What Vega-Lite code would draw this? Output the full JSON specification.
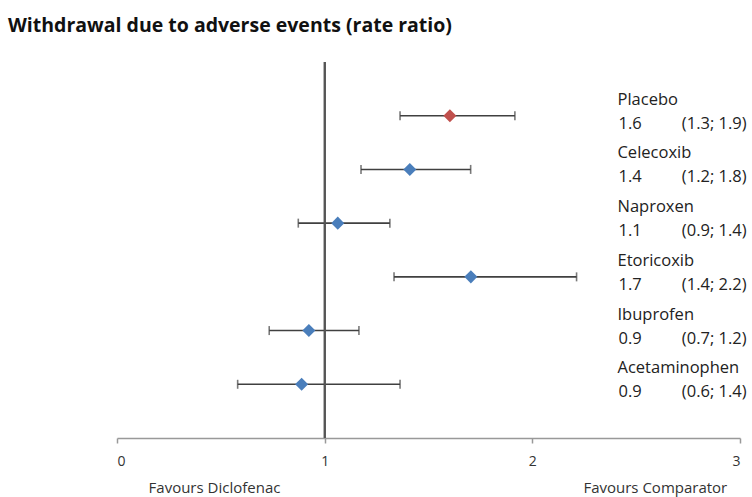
{
  "$schema": "https://vega.github.io/schema/vega-lite/v6.json",
  "width": 623,
  "height": 376,
  "autosize": "none",
  "padding": {"left": 117, "top": 62, "right": 12, "bottom": 59},
  "background": "white",
  "config": {
    "view": {"stroke": null},
    "font": "Open Sans",
    "text": {"font": "Open Sans"}
  },
  "title": {
    "text": "Withdrawal due to adverse events (rate ratio)",
    "anchor": "start",
    "frame": "group",
    "dx": -109,
    "offset": 25,
    "fontSize": 19.5,
    "fontWeight": "bold",
    "font": "Open Sans",
    "color": "#111111"
  },
  "data": {
    "values": [
      {"drug": "Placebo", "est": 1.603, "lo": 1.363, "hi": 1.916, "rr": "1.6", "ci": "(1.3; 1.9)", "group": "Placebo"},
      {"drug": "Celecoxib", "est": 1.41, "lo": 1.175, "hi": 1.703, "rr": "1.4", "ci": "(1.2; 1.8)", "group": "Active"},
      {"drug": "Naproxen", "est": 1.063, "lo": 0.873, "hi": 1.314, "rr": "1.1", "ci": "(0.9; 1.4)", "group": "Active"},
      {"drug": "Etoricoxib", "est": 1.704, "lo": 1.334, "hi": 2.213, "rr": "1.7", "ci": "(1.4; 2.2)", "group": "Active"},
      {"drug": "Ibuprofen", "est": 0.924, "lo": 0.733, "hi": 1.165, "rr": "0.9", "ci": "(0.7; 1.2)", "group": "Active"},
      {"drug": "Acetaminophen", "est": 0.889, "lo": 0.581, "hi": 1.363, "rr": "0.9", "ci": "(0.6; 1.4)", "group": "Active"}
    ]
  },
  "encoding": {
    "y": {
      "field": "drug",
      "type": "nominal",
      "sort": null,
      "scale": {"type": "point", "padding": 1.02},
      "axis": null
    }
  },
  "layer": [
    {
      "mark": {"type": "rule", "color": "#404040", "strokeWidth": 1.6},
      "encoding": {
        "x": {
          "field": "lo",
          "type": "quantitative",
          "scale": {"domain": [0, 3], "nice": false, "zero": false},
          "axis": {
            "orient": "bottom",
            "values": [0, 1, 2, 3],
            "format": "d",
            "grid": false,
            "title": null,
            "domainColor": "#999999",
            "domainWidth": 1.5,
            "tickColor": "#999999",
            "tickWidth": 1.5,
            "tickSize": 5,
            "labelFontSize": 14,
            "labelColor": "#333333",
            "labelPadding": 11,
            "labelFont": "Open Sans"
          }
        },
        "x2": {"field": "hi"}
      }
    },
    {
      "mark": {"type": "rule", "color": "#555555", "strokeWidth": 1.5},
      "encoding": {
        "x": {
          "datum": 1,
          "type": "quantitative",
          "axis": {
            "orient": "bottom",
            "values": [0.467, 2.59],
            "labelExpr": "datum.value < 1 ? 'Favours Diclofenac' : 'Favours Comparator'",
            "domain": false,
            "ticks": false,
            "grid": false,
            "title": null,
            "labelFontSize": 15,
            "labelColor": "#333333",
            "labelPadding": 4,
            "offset": 38,
            "labelFont": "Open Sans"
          }
        },
        "y": null
      }
    },
    {
      "mark": {"type": "tick", "color": "#404040", "thickness": 1.6, "size": 9},
      "encoding": {"x": {"field": "lo", "type": "quantitative", "axis": null}}
    },
    {
      "mark": {"type": "tick", "color": "#404040", "thickness": 1.6, "size": 9},
      "encoding": {"x": {"field": "hi", "type": "quantitative", "axis": null}}
    },
    {
      "mark": {"type": "point", "shape": "diamond", "filled": true, "size": 170, "opacity": 1},
      "encoding": {
        "x": {"field": "est", "type": "quantitative", "axis": null},
        "color": {
          "field": "group",
          "type": "nominal",
          "scale": {"domain": ["Placebo", "Active"], "range": ["#c0504d", "#4a7ebb"]},
          "legend": null
        }
      }
    },
    {
      "mark": {"type": "text", "align": "left", "baseline": "middle", "dy": -16, "fontSize": 16.5, "color": "#222222"},
      "encoding": {
        "x": {"datum": 2.41, "type": "quantitative", "axis": null},
        "text": {"field": "drug"}
      }
    },
    {
      "mark": {"type": "text", "align": "left", "baseline": "middle", "dy": 8, "fontSize": 16.5, "color": "#222222"},
      "encoding": {
        "x": {"datum": 2.415, "type": "quantitative", "axis": null},
        "text": {"field": "rr"}
      }
    },
    {
      "mark": {"type": "text", "align": "left", "baseline": "middle", "dy": 8, "fontSize": 16.5, "color": "#222222"},
      "encoding": {
        "x": {"datum": 2.72, "type": "quantitative", "axis": null},
        "text": {"field": "ci"}
      }
    }
  ],
  "resolve": {"axis": {"x": "independent"}}
}
